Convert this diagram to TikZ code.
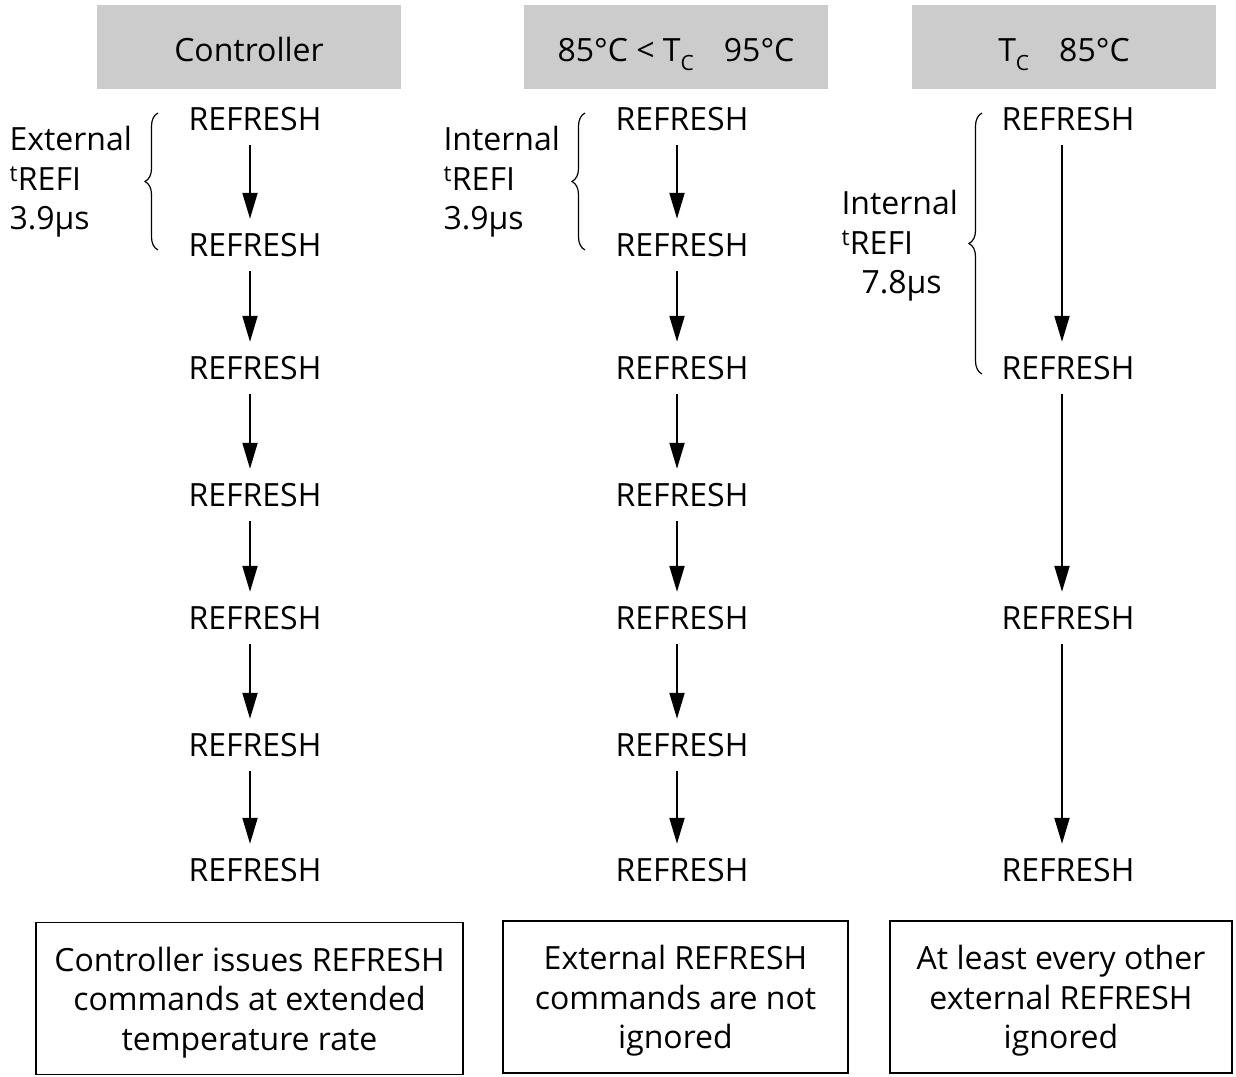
\documentclass[tikz,border=0pt]{standalone}
\usepackage{fontspec}
\setmainfont{Open Sans}
\usetikzlibrary{arrows.meta,decorations.pathreplacing}

\begin{document}
\begin{tikzpicture}[
x=1pt, y=-1pt,
every node/.style={
font=\fontsize{32}{39.5}\selectfont,
align=center
},
cmd/.style={inner sep=0pt, text height=23pt, text depth=0pt, minimum height=52pt},
hdr/.style={fill=black!20, minimum width=304pt, minimum height=84pt,
  inner sep=0pt, text height=29pt, text depth=0pt},
note/.style={draw, line width=1.2pt, minimum height=152pt, text depth=0pt},
flow/.style={-{Triangle[length=26pt,width=15pt]}, line width=2pt},
brc/.style={decorate, decoration={brace, amplitude=13pt}, line width=1.2pt}
]
\useasboundingbox (0,0) rectangle (1236,1076);

% headers
\node[hdr] (H1) at (249,47) {Controller};
\node[hdr] (H2) at (676,47)
{85°C < T\raisebox{-9pt}{\fontsize{21}{21}\selectfont C}\hspace{30pt}95°C};
\node[hdr] (H3) at (1064,47)
{T\raisebox{-9pt}{\fontsize{21}{21}\selectfont C}\hspace{30pt}85°C};

% controller column
\node[cmd] (A1) at (255,119) {REFRESH};
\node[cmd] (A2) at (255,245) {REFRESH};
\node[cmd] (A3) at (255,368) {REFRESH};
\node[cmd] (A4) at (255,495) {REFRESH};
\node[cmd] (A5) at (255,618) {REFRESH};
\node[cmd] (A6) at (255,745) {REFRESH};
\node[cmd] (A7) at (255,870) {REFRESH};

% 85..95 column
\node[cmd] (B1) at (682,119) {REFRESH};
\node[cmd] (B2) at (682,245) {REFRESH};
\node[cmd] (B3) at (682,368) {REFRESH};
\node[cmd] (B4) at (682,495) {REFRESH};
\node[cmd] (B5) at (682,618) {REFRESH};
\node[cmd] (B6) at (682,745) {REFRESH};
\node[cmd] (B7) at (682,870) {REFRESH};

% below 85 column
\node[cmd] (C1) at (1068,119) {REFRESH};
\node[cmd] (C2) at (1068,368) {REFRESH};
\node[cmd] (C3) at (1068,618) {REFRESH};
\node[cmd] (C4) at (1068,870) {REFRESH};

\draw[flow] ([xshift=-5pt]A1.south) -- ([xshift=-5pt]A2.north);
\draw[flow] ([xshift=-5pt]A2.south) -- ([xshift=-5pt]A3.north);
\draw[flow] ([xshift=-5pt]A3.south) -- ([xshift=-5pt]A4.north);
\draw[flow] ([xshift=-5pt]A4.south) -- ([xshift=-5pt]A5.north);
\draw[flow] ([xshift=-5pt]A5.south) -- ([xshift=-5pt]A6.north);
\draw[flow] ([xshift=-5pt]A6.south) -- ([xshift=-5pt]A7.north);

\draw[flow] ([xshift=-5pt]B1.south) -- ([xshift=-5pt]B2.north);
\draw[flow] ([xshift=-5pt]B2.south) -- ([xshift=-5pt]B3.north);
\draw[flow] ([xshift=-5pt]B3.south) -- ([xshift=-5pt]B4.north);
\draw[flow] ([xshift=-5pt]B4.south) -- ([xshift=-5pt]B5.north);
\draw[flow] ([xshift=-5pt]B5.south) -- ([xshift=-5pt]B6.north);
\draw[flow] ([xshift=-5pt]B6.south) -- ([xshift=-5pt]B7.north);

\draw[flow] ([xshift=-6pt]C1.south) -- ([xshift=-6pt]C2.north);
\draw[flow] ([xshift=-6pt]C2.south) -- ([xshift=-6pt]C3.north);
\draw[flow] ([xshift=-6pt]C3.south) -- ([xshift=-6pt]C4.north);

% braces
\coordinate (ab) at (158,250);
\coordinate (at) at (158,113);
\draw[brc] (ab) -- (at);
\node[anchor=west, align=left] (AL) at (6,182)
{External\\\textsuperscript{t}REFI\\3.9µs};

\coordinate (bb) at (585,250);
\coordinate (bt) at (585,113);
\draw[brc] (bb) -- (bt);
\node[anchor=west, align=left] (BL) at (440,182)
{Internal\\\textsuperscript{t}REFI\\3.9µs};

\coordinate (cb) at (982,374);
\coordinate (ct) at (982,113);
\draw[brc] (cb) -- (ct);
\node[anchor=west, align=left] (CL) at (838,246)
{Internal\\\textsuperscript{t}REFI\\\hspace*{20pt}7.8µs};

% notes
\node[note, minimum width=427pt] (N1) at (249.5,998.5)
{Controller issues REFRESH\\commands at extended\\temperature rate};
\node[note, minimum width=345pt] (N2) at (675.5,997)
{External REFRESH\\commands are not\\ignored};
\node[note, minimum width=342pt] (N3) at (1061,997)
{At least every other\\external REFRESH\\ignored};

\end{tikzpicture}
\end{document}
